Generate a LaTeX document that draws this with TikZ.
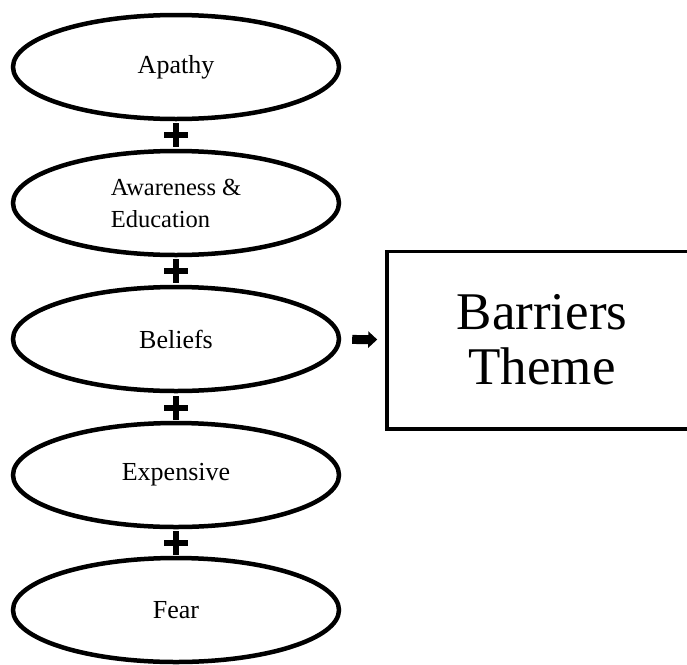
\documentclass[tikz,border=0pt]{standalone}
\usepackage{fontspec}
\setmainfont{Liberation Serif}
\usetikzlibrary{shapes.geometric,shapes.misc,arrows.meta}

\begin{document}
\begin{tikzpicture}[x=1pt, y=-1pt,
        voce/.style={ellipse, draw, line width=4.5pt, minimum width=326pt, minimum height=104pt, inner sep=0pt, font=\fontsize{26}{30}\selectfont},
        piu/.style={cross out, draw, rotate=45, line width=5.5pt, minimum size=10.8pt, inner sep=0pt}]
            \clip (0,0) rectangle (687,664);

            % Ellissi
            \node[voce] (A) at (176,67) {Apathy};
            \node[voce, align=left, font=\fontsize{24.5}{32}\selectfont] (B) at (176,203) {Awareness \&\\Education};
            \node[voce] (C) at (176,339) {Beliefs};
            \node[voce] (D) at (176,475) {Expensive};
            \node[voce] (E) at (176,610) {Fear};

            % Segni piu
            \node[piu] (P1) at (176,135) {};
            \node[piu] (P2) at (176,271) {};
            \node[piu] (P3) at (176,408) {};
            \node[piu] (P4) at (176,543) {};

            % Riquadro
            \node[draw, line width=3.5pt, minimum width=310pt, minimum height=177.5pt, align=center,
                  font=\fontsize{53}{55}\selectfont] (T) at (542,340) {Barriers\\Theme};

            % Freccia
            \draw[line width=9pt, -{Triangle[length=9pt,width=16pt]}, shorten <=11pt, shorten >=8pt] (C) -- (T);
        \end{tikzpicture}
\end{document}
